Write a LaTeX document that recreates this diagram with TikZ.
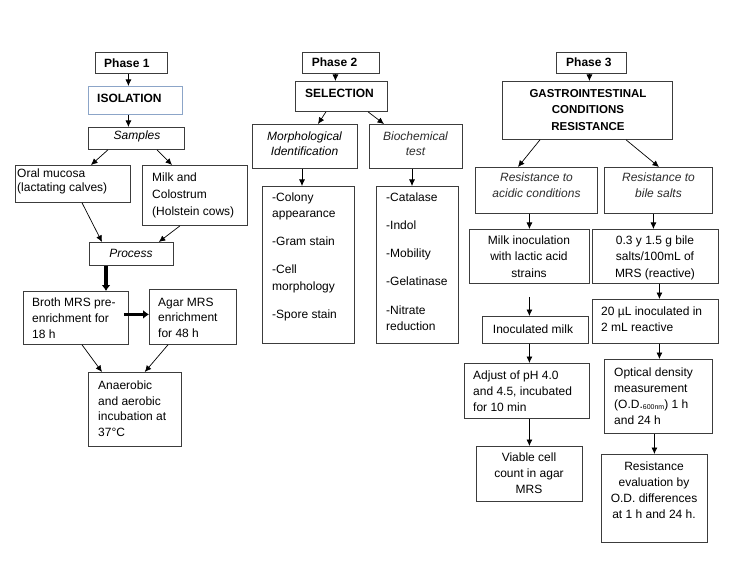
\documentclass[tikz,border=0pt]{standalone}
\usepackage{fontspec}
\setmainfont{Liberation Sans}
\usetikzlibrary{arrows.meta}
\definecolor{boxline}{RGB}{60,60,60}
\definecolor{isoline}{RGB}{140,165,200}
\definecolor{softtext}{RGB}{45,45,45}
\tikzset{
  box/.style={draw=boxline, line width=0.8pt, inner sep=0pt, anchor=north west, fill=white},
  txt/.style={inner sep=0pt, font=\fontsize{12}{16}\selectfont, align=left, anchor=base west},
  ctxt/.style={inner sep=0pt, font=\fontsize{12}{16}\selectfont, align=center, anchor=base},
  lsk/.style={font=\fontsize{12}{#1}\selectfont},
  arr/.style={-{Latex[length=6.5pt,width=6pt]}, line width=0.7pt},
  fatarr/.style={-{Latex[length=6pt,width=9pt]}, line width=3.5pt},
}
\begin{document}
\begin{tikzpicture}[x=1pt,y=-1pt]
\fill[white] (0,0) rectangle (736,580);
\useasboundingbox (0,0) rectangle (736,580);

% ---------- Phase 1 ----------
\node[box, minimum width=72pt, minimum height=21pt] (p1) at (95,52) {};
\node[box, draw=isoline, minimum width=94pt, minimum height=28pt] (iso) at (88,86) {};
\node[box, minimum width=96pt, minimum height=22pt] (samp) at (88,127) {};
\node[box, minimum width=115pt, minimum height=37pt] (oral) at (15,165) {};
\node[box, minimum width=105pt, minimum height=60pt] (milk) at (142,165) {};
\node[box, minimum width=84pt, minimum height=23pt] (proc) at (89,242) {};
\node[box, minimum width=105pt, minimum height=53pt] (broth) at (23,291) {};
\node[box, minimum width=87pt, minimum height=55pt] (agar) at (149,289) {};
\node[box, minimum width=93pt, minimum height=74pt] (anae) at (88,372) {};

\node[txt, font=\fontsize{12}{16}\selectfont\bfseries] (p1t) at (104,67.5) {Phase 1};
\node[txt, font=\fontsize{12}{16}\selectfont\bfseries] (isot) at (97,102.3) {ISOLATION};
\node[ctxt, font=\fontsize{12}{16}\selectfont\itshape] (sampt) at (137,140) {Samples};
\node[txt, lsk=13.7] (oralt) at (17,191.7) {Oral mucosa\\(lactating calves)};
\node[txt, lsk=16.7] (milkt) at (152,215.1) {Milk and\\Colostrum\\(Holstein cows)};
\node[ctxt, font=\fontsize{12}{16}\selectfont\itshape] (proct) at (131,258) {Process};
\node[txt, lsk=16] (brotht) at (32,338) {Broth MRS pre-\\enrichment for\\18 h};
\node[txt, lsk=15.7] (agart) at (158,337.4) {Agar MRS\\enrichment\\for 48 h};
\node[txt, lsk=15.8] (anaet) at (98,436.7) {Anaerobic\\and aerobic\\incubation at\\37°C};

% ---------- Phase 2 ----------
\node[box, minimum width=77pt, minimum height=21pt] (p2) at (302,52) {};
\node[box, minimum width=92pt, minimum height=30pt] (sel) at (295,81) {};
\node[box, minimum width=105pt, minimum height=44pt] (morph) at (252,124) {};
\node[box, minimum width=93pt, minimum height=44pt] (bio) at (369,124) {};
\node[box, minimum width=92pt, minimum height=157pt] (mlist) at (262,186) {};
\node[box, minimum width=82pt, minimum height=157pt] (blist) at (376,186) {};

\node[txt, font=\fontsize{12}{16}\selectfont\bfseries] (p2t) at (311.7,66.7) {Phase 2};
\node[txt, font=\fontsize{12}{16}\selectfont\bfseries] (selt) at (305,97.3) {SELECTION};
\node[ctxt, font=\fontsize{12}{15.3}\selectfont\itshape] (morpht) at (304.5,156) {Morphological\\Identification};
\node[ctxt, text=softtext, font=\fontsize{12}{15.3}\selectfont\itshape] (biot) at (415.5,156) {Biochemical\\test};
\node[txt, lsk=16.3] (mlistt) at (272,318.5) {-Colony\\appearance\\[12pt]-Gram stain\\[12pt]-Cell\\morphology\\[12pt]-Spore stain};
\node[txt, lsk=16.3] (blistt) at (386,330.5) {-Catalase\\[12pt]-Indol\\[12pt]-Mobility\\[12pt]-Gelatinase\\[12pt]-Nitrate\\reduction};

% ---------- Phase 3 ----------
\node[box, minimum width=70pt, minimum height=21pt] (p3) at (556,52) {};
\node[box, minimum width=170pt, minimum height=58pt] (gast) at (502,81) {};
\node[box, minimum width=122pt, minimum height=46pt] (acid) at (475,167) {};
\node[box, minimum width=108pt, minimum height=46pt] (bile) at (604,167) {};
\node[box, minimum width=120pt, minimum height=54pt] (minoc) at (469,229) {};
\node[box, minimum width=126pt, minimum height=54pt] (bsalt) at (592,229) {};
\node[box, minimum width=106pt, minimum height=27pt] (inoc) at (482,316) {};
\node[box, minimum width=126pt, minimum height=44pt] (ul) at (592,299) {};
\node[box, minimum width=125pt, minimum height=55pt] (adj) at (464,363) {};
\node[box, minimum width=108pt, minimum height=74pt] (opt) at (604,359) {};
\node[box, minimum width=106pt, minimum height=55pt] (via) at (476,446) {};
\node[box, minimum width=106pt, minimum height=88pt] (eval) at (601,454) {};

\node[txt, font=\fontsize{12}{16}\selectfont\bfseries] (p3t) at (566,66.7) {Phase 3};
\node[ctxt, font=\fontsize{11.5}{16.7}\selectfont\bfseries] (gastt) at (588,130.7) {GASTROINTESTINAL\\CONDITIONS\\RESISTANCE};
\node[ctxt, text=softtext, font=\fontsize{12}{15.6}\selectfont\itshape] (acidt) at (536.5,197.3) {Resistance to\\acidic conditions};
\node[ctxt, text=softtext, font=\fontsize{12}{15.6}\selectfont\itshape] (bilet) at (658.5,197.3) {Resistance to\\bile salts};
\node[ctxt, lsk=16.5] (minoct) at (529,277) {Milk inoculation\\with lactic acid\\strains};
\node[ctxt, lsk=16.5] (bsaltt) at (655,277) {0.3 y 1.5 g bile\\salts/100mL of\\MRS (reactive)};
\node[txt, lsk=16] (ult) at (601,331.5) {20 µL inoculated in\\2 mL reactive};
\node[ctxt] (inoct) at (533,333.3) {Inoculated milk};
\node[txt, lsk=16] (adjt) at (473,411) {Adjust of pH 4.0\\and 4.5, incubated\\for 10 min};
\node[txt, lsk=16] (optt) at (614,424) {Optical density\\measurement\\(O.D.\raisebox{-1.5pt}{\fontsize{7}{7}\selectfont 600nm}) 1 h\\and 24 h};
\node[ctxt, lsk=16] (viat) at (529,493.7) {Viable cell\\count in agar\\MRS};
\node[ctxt, lsk=16] (evalt) at (654,518) {Resistance\\evaluation by\\O.D. differences\\at 1 h and 24 h.};

% ---------- Connectors ----------
\draw[arr] ([xshift=-3pt]p1.south) -- ([xshift=-7pt]iso.north);
\draw[arr] ([xshift=-7pt]iso.south) -- ([xshift=-8pt]samp.north);
\draw[arr] ([xshift=20pt]samp.south west) -- ([xshift=76pt]oral.north west);
\draw[arr] ([xshift=69pt]samp.south west) -- ([xshift=30pt]milk.north west);
\draw[arr] ([xshift=67pt]oral.south west) -- ([xshift=13pt]proc.north west);
\draw[arr] ([xshift=38pt]milk.south west) -- ([xshift=-15pt]proc.north east);
\draw[fatarr] ([xshift=17pt]proc.south west) -- ([xshift=83pt]broth.north west);
\draw[fatarr] ([xshift=-5pt,yshift=3.5pt]broth.east) -- ([yshift=2.5pt]agar.west);
\draw[arr] ([xshift=59pt]broth.south west) -- ([xshift=14pt]anae.north west);
\draw[arr] ([xshift=19pt]agar.south west) -- ([xshift=-37pt]anae.north east);

\draw[arr] ([xshift=-5.5pt]p2.south) -- ([xshift=-6pt]sel.north);
\draw[arr] ([xshift=31pt]sel.south west) -- ([xshift=66pt]morph.north west);
\draw[arr] ([xshift=73pt]sel.south west) -- ([xshift=15pt]bio.north west);
\draw[arr] ([xshift=50pt]morph.south west) -- ([xshift=40pt]mlist.north west);
\draw[arr] ([xshift=43pt]bio.south west) -- ([xshift=36pt]blist.north west);

\draw[arr] ([xshift=-2pt]p3.south) -- ([xshift=2pt]gast.north);
\draw[arr] ([xshift=38pt]gast.south west) -- ([xshift=43pt]acid.north west);
\draw[arr] ([xshift=124pt]gast.south west) -- ([xshift=55pt]bile.north west);
\draw[arr] ([xshift=-7pt]acid.south) -- (minoc.north);
\draw[arr] ([xshift=-5pt]bile.south) -- ([xshift=-2pt]bsalt.north);
\draw[arr] ([yshift=-13pt]minoc.south) -- ([xshift=-6pt]inoc.north);
\draw[arr] ([xshift=4pt]bsalt.south) -- ([xshift=4pt]ul.north);
\draw[arr] ([xshift=-6pt]inoc.south) -- ([xshift=2.5pt]adj.north);
\draw[arr] ([xshift=4pt]ul.south) -- ([xshift=1pt]opt.north);
\draw[arr] ([xshift=2.5pt]adj.south) -- (via.north);
\draw[arr] ([xshift=-4pt]opt.south) -- (eval.north);
\end{tikzpicture}
\end{document}
